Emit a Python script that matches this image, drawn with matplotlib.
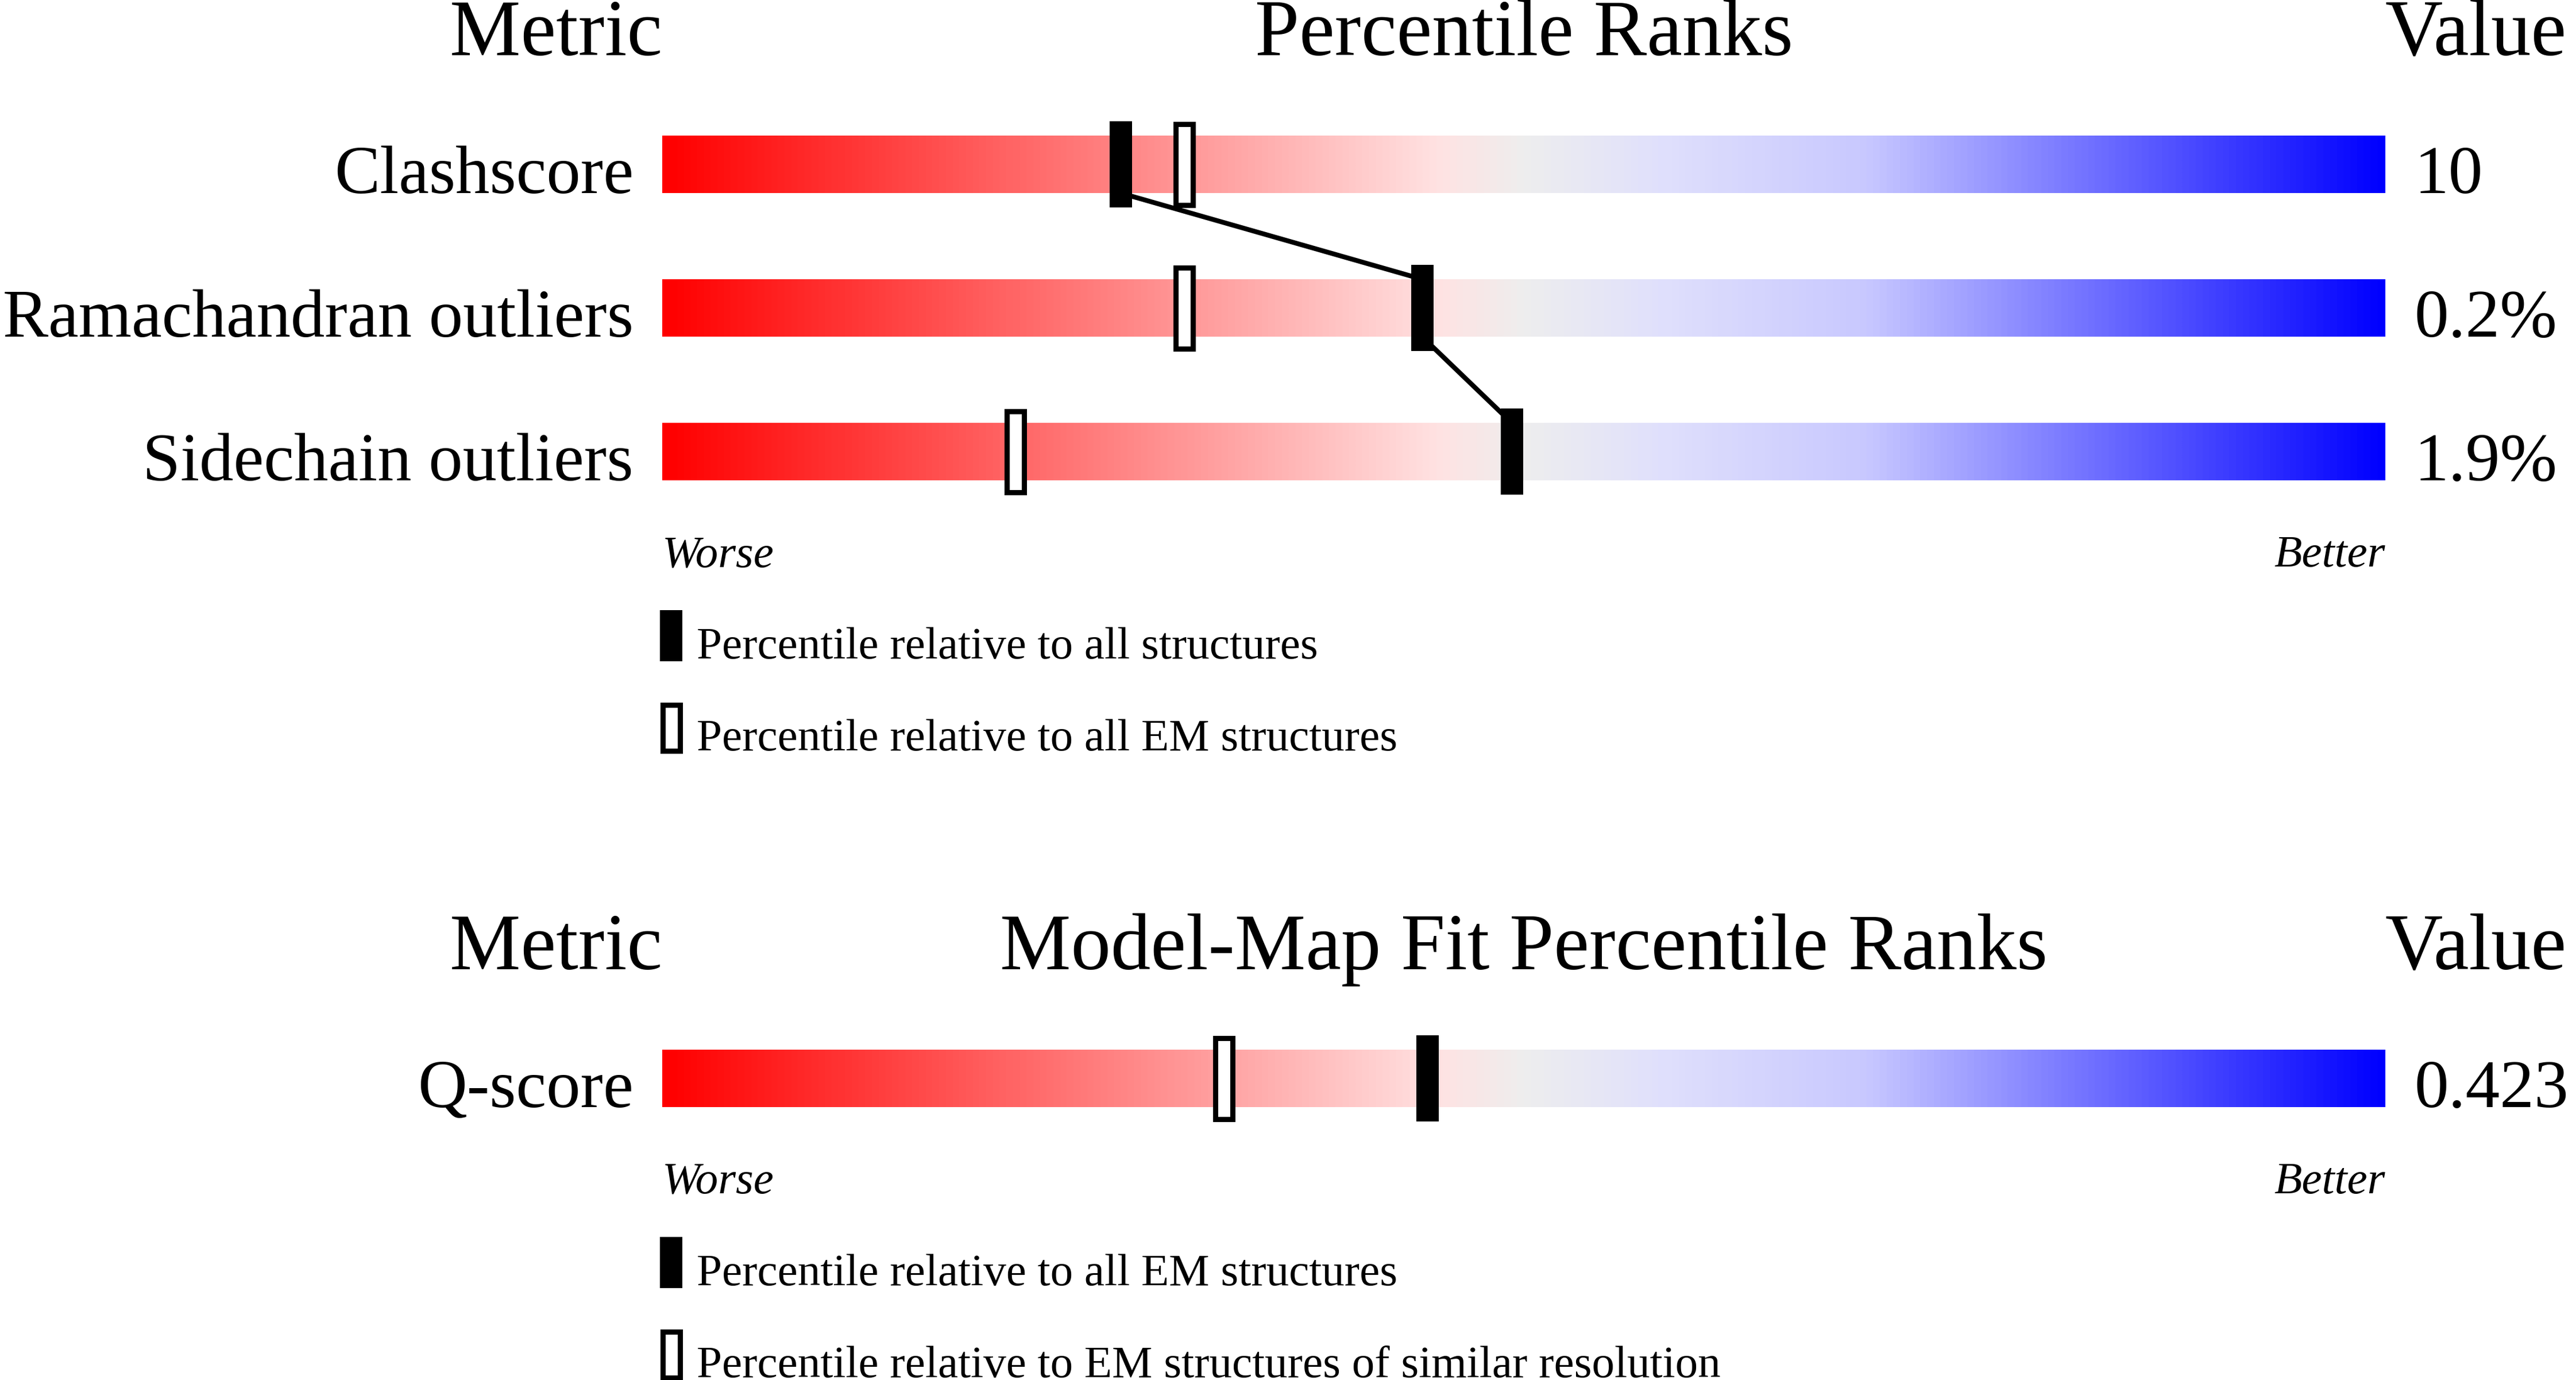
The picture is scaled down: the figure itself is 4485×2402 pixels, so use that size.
import numpy as np
import matplotlib
matplotlib.use("Agg")
import matplotlib.pyplot as plt
from matplotlib.colors import LinearSegmentedColormap
from matplotlib.patches import Rectangle

# data
metrics_top = ["Clashscore", "Ramachandran outliers", "Sidechain outliers"]
values_top = ["10", "0.2%", "1.9%"]
pct_all_top = [26.6, 44.1, 49.3]      # filled markers
pct_em_top = [30.3, 30.3, 20.5]       # open markers
legend_top = ["Percentile relative to all structures",
              "Percentile relative to all EM structures"]

metrics_bot = ["Q-score"]
values_bot = ["0.423"]
pct_all_bot = [44.4]
pct_em_bot = [32.6]
legend_bot = ["Percentile relative to all EM structures",
              "Percentile relative to EM structures of similar resolution"]

# layout (pixels, y downwards); x is in percentile units (0..100 -> bar)
W, H = 4485, 2402
BAR_L, BAR_R = 1153, 4153
PX = (BAR_R - BAR_L) / 100.0
BAR_H = 100
MARK_W, MARK_H = 39 / PX, 150

slider = LinearSegmentedColormap.from_list("slider", [
    (0.00, (1.0, 0.0, 0.0)),
    (0.30, (1.0, 150 / 255, 150 / 255)),
    (0.45, (1.0, 226 / 255, 226 / 255)),
    (0.50, (238 / 255, 238 / 255, 238 / 255)),
    (0.58, (224 / 255, 224 / 255, 252 / 255)),
    (0.70, (200 / 255, 200 / 255, 1.0)),
    (1.00, (0.0, 0.0, 1.0)),
])

plt.rcParams['font.family'] = ['Liberation Serif', 'DejaVu Serif']

fig = plt.figure(figsize=(W / 100, H / 100), dpi=100)
ax = fig.add_axes([0, 0, 1, 1])
ax.set_xlim(-BAR_L / PX, (W - BAR_L) / PX)
ax.set_ylim(H, 0)
ax.axis("off")

grad = np.linspace(0, 1, 600).reshape(1, -1)


def section(head_y, title, metrics, values, p_all, p_em, legend):
    ax.text(0, head_y, "Metric", ha="right", va="baseline", fontsize=100)
    ax.text(50, head_y, title, ha="center", va="baseline", fontsize=100)
    ax.text(100, head_y, "Value", ha="left", va="baseline", fontsize=100)

    centers = [head_y + 190 + 250 * i for i in range(len(metrics))]
    for yc, name, val in zip(centers, metrics, values):
        ax.imshow(grad, cmap=slider, aspect="auto", interpolation="bilinear",
                  extent=(0, 100, yc + BAR_H / 2, yc - BAR_H / 2), zorder=1)
        ax.text(-50 / PX, yc + BAR_H / 2, name, ha="right", va="baseline", fontsize=85.5)
        ax.text(100 + 50 / PX, yc + BAR_H / 2, val, ha="left", va="baseline", fontsize=86)

    # connecting line between the filled markers
    for i in range(len(centers) - 1):
        ax.plot([p_all[i], p_all[i + 1]],
                [centers[i] + BAR_H / 2, centers[i + 1] - BAR_H / 2],
                color="black", lw=6, solid_capstyle="butt", zorder=2)

    for yc, pa, pe in zip(centers, p_all, p_em):
        ax.add_patch(Rectangle((pe - MARK_W / 2 + 4.5 / PX, yc - MARK_H / 2 + 4.5),
                               MARK_W - 9 / PX, MARK_H - 9, facecolor="white",
                               edgecolor="black", lw=6.5, zorder=3))
        ax.add_patch(Rectangle((pa - MARK_W / 2, yc - MARK_H / 2), MARK_W, MARK_H,
                               facecolor="black", edgecolor="none", zorder=4))

    y = centers[-1] + BAR_H / 2 + 150
    ax.text(0, y, "Worse", ha="left", va="baseline", fontsize=57, style="italic")
    ax.text(100, y, "Better", ha="right", va="baseline", fontsize=57, style="italic")

    for j, lab in enumerate(legend):
        top = y + 76 + 160 * j
        icon_x = 0.52
        if j == 0:
            ax.add_patch(Rectangle((icon_x - MARK_W / 2, top), MARK_W, 89,
                                   facecolor="black", edgecolor="none"))
        else:
            ax.add_patch(Rectangle((icon_x - MARK_W / 2 + 4.5 / PX, top + 4.5),
                                   MARK_W - 9 / PX, 80, facecolor="white",
                                   edgecolor="black", lw=6.5))
        ax.text(2.0, top + 84, lab, ha="left", va="baseline", fontsize=57)


section(96, "Percentile Ranks", metrics_top, values_top,
        pct_all_top, pct_em_top, legend_top)
section(1687, "Model-Map Fit Percentile Ranks", metrics_bot, values_bot,
        pct_all_bot, pct_em_bot, legend_bot)

fig.savefig("out.png", dpi=100, facecolor="white")
